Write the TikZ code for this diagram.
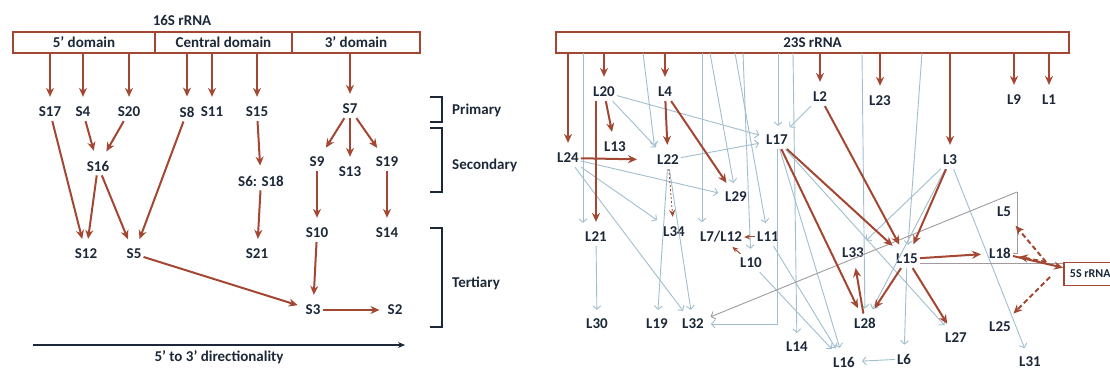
\documentclass[tikz,border=0pt]{standalone}
\usepackage{fontspec}
\setmainfont{Carlito}
\usetikzlibrary{arrows.meta,positioning,calc}
\definecolor{rust}{RGB}{163,70,50}
\definecolor{haze}{RGB}{160,190,206}
\definecolor{ink}{RGB}{28,40,56}
\tikzset{
  >=Stealth,
  lbl/.style={font=\fontsize{15}{18}\selectfont\bfseries, text=ink, inner xsep=2pt, inner ysep=4pt},
}

\begin{document}
\begin{tikzpicture}[x=1pt, y=-1pt,
  dom/.style={lbl, draw=rust, line width=1.8pt, fill=white, minimum height=21pt, inner sep=0pt},
  rarr/.style={-{Stealth[length=9pt,width=8pt]}, rust, line width=2pt, shorten >=6pt},
  garr/.style={-{Straight Barb[length=3.5pt,width=8pt]}, haze, line width=0.9pt, shorten >=5pt},
  pale/.style={rust!30!haze, line width=0.9pt},
  brk/.style={ink, line width=1.2pt}
]
\useasboundingbox (0,0) rectangle (1110,371);
\clip (0,0) rectangle (1110,371);

% 16S side
\node[lbl] (t16) at (182,20) {16S rRNA};
\node[dom, minimum width=142pt] (d5) at (84,42.5) {5’ domain};
\node[dom, minimum width=137pt] (dc) at (223.5,42.5) {Central domain};
\node[dom, minimum width=128pt] (d3) at (356,42.5) {3’ domain};

\node[lbl] (s17) at (50,112) {S17};
\node[lbl] (s4) at (83,112) {S4};
\node[lbl] (s20) at (129,112) {S20};
\node[lbl] (s8) at (187,112) {S8};
\node[lbl] (s11) at (212,112) {S11};
\node[lbl] (s15) at (257,112) {S15};
\node[lbl] (s7) at (350,109) {S7};
\node[lbl] (s16) at (98,166) {S16};
\node[lbl] (s9) at (317,162) {S9};
\node[lbl] (s13) at (350,172) {S13};
\node[lbl] (s19) at (387,162) {S19};
\node[lbl] (s618) at (261,181) {S6: S18};
\node[lbl] (s12) at (86,254) {S12};
\node[lbl] (s5) at (134,254) {S5};
\node[lbl] (s21) at (257,254) {S21};
\node[lbl] (s10) at (317,233) {S10};
\node[lbl] (s14) at (387,233) {S14};
\node[lbl] (s3) at (313,310) {S3};
\node[lbl] (s2) at (395,310) {S2};

\foreach \n in {s17,s4,s20} \draw[rarr] (d5.south -| \n) -- (\n);
\foreach \n in {s8,s11,s15} \draw[rarr] (dc.south -| \n) -- (\n);
\draw[rarr] (d3.south -| s7) -- (s7);
\draw[rarr] (s4) -- (s16);
\draw[rarr] (s20) -- (s16);
\draw[rarr] (s17) -- (s12);
\draw[rarr] (s16) -- (s12);
\draw[rarr] (s16) -- (s5);
\draw[rarr] (s8) -- (s5);
\draw[rarr] (s7) -- (s9);
\draw[rarr] (s7) -- (s13);
\draw[rarr] (s7) -- (s19);
\draw[rarr] (s15) -- (s618);
\draw[rarr] (s618) -- (s21);
\draw[rarr] (s9) -- (s10);
\draw[rarr] (s19) -- (s14);
\draw[rarr] (s10) -- (s3);
\draw[rarr] (s5) -- (s3);
\draw[rarr] (s3) -- (s2);

\draw[brk] (430,97) -- (442,97) -- (442,122) -- (430,122);
\draw[brk] (430,128) -- (442,128) -- (442,192) -- (430,192);
\draw[brk] (430,228) -- (442,228) -- (442,327) -- (430,327);
\node[lbl, anchor=west] (prim) at (450,110) {Primary};
\node[lbl, anchor=west] (sec) at (450,165) {Secondary};
\node[lbl, anchor=west] (ter) at (450,283) {Tertiary};

\coordinate (dl) at (33,345);
\coordinate (dr) at (405,345);
\draw[-{Stealth[length=7pt,width=6pt]}, ink, line width=1.2pt] (dl) -- node[lbl, below=1pt] {5’ to 3’ directionality} (dr);

% 23S side
\node[dom, minimum width=513pt] (r23) at (812.5,42.5) {23S rRNA};
\node[dom, font=\fontsize{12}{14}\selectfont\bfseries, anchor=west, inner xsep=6pt, minimum height=23pt] (r5s) at (1063,274) {5S rRNA};

\node[lbl] (l20) at (604,92) {L20};
\node[lbl] (l4) at (665,92) {L4};
\node[lbl] (l2) at (820,97) {L2};
\node[lbl] (l23) at (880,101) {L23};
\node[lbl] (l9) at (1014,100) {L9};
\node[lbl] (l1) at (1049,100) {L1};
\node[lbl] (l13) at (615,147) {L13};
\node[lbl] (l24) at (568,158) {L24};
\node[lbl] (l22) at (668,160) {L22};
\node[lbl] (l17) at (777,140) {L17};
\node[lbl] (l3) at (950,160) {L3};
\node[lbl] (l29) at (736,197) {L29};
\node[lbl] (l21) at (596,237) {L21};
\node[lbl] (l34) at (674,232) {L34};
\node[lbl] (l712) at (721,237) {L7/L12};
\node[lbl] (l11) at (768,237) {L11};
\node[lbl] (l10) at (751,263) {L10};
\node[lbl] (l30) at (597,324) {L30};
\node[lbl] (l19) at (657,324) {L19};
\node[lbl] (l32) at (693,324) {L32};
\node[lbl] (l14) at (797,347) {L14};
\node[lbl] (l33) at (853,253) {L33};
\node[lbl] (l15) at (907,259) {L15};
\node[lbl] (l18) at (1000,253) {L18};
\node[lbl] (l5) at (1004,212) {L5};
\node[lbl] (l28) at (865,323) {L28};
\node[lbl] (l27) at (956,338) {L27};
\node[lbl] (l25) at (1000,327) {L25};
\node[lbl] (l16) at (844,362) {L16};
\node[lbl] (l6) at (904,359) {L6};
\node[lbl] (l31) at (1030,362) {L31};

\foreach \x in {583,643,702,710,735,743,778,793,862,922}
  \coordinate (g\x) at (\x,53);
\coordinate (kk) at (1017,192);
\coordinate (h1) at (1046,262);
\coordinate (h2) at (1050,277);
\coordinate (q15) at ([yshift=-4pt]l15.east);

\draw[garr] (g583) -- (g583 |- l21.north);
\draw[garr] (l21) -- (l30);
\draw[garr] (g643) -- (l22.north west);
\draw[garr] (l20) -- (l22);
\draw[garr] (l20) -- (l17);
\draw[garr] (g778) -- (g778 |- l17.north);
\draw[garr] (l2) -- (l17);
\draw[garr] (l22) -- (l17);
\draw[garr] (l24) -- (l29);
\draw[garr] (l24) -- (l34);
\draw[garr] (l24) -- (l32);
\draw[garr] (g702) -- (g702 |- l712.north);
\draw[garr] (g710) -- (l29);
\draw[garr] (g735) -- (l11);
\draw[garr] (g743) -- (l10);
\draw[garr] (g793) -- (l14);
\draw[garr] (l22) -- (l32);
\draw[garr] (l22) -- (l19);
\draw[garr] (l17) |- (l32);
\draw[garr] (g862) -- (l28);
\draw[garr] (g922) -- (l15);
\draw[garr] (l3) -- (l33);
\draw[garr] (l3) -- (l28);
\draw[garr] (l3) -- (l31);
\draw[garr] (l15) -- (l6);
\draw[garr] (l6) -- (l16);
\draw[garr] (l10) -- (l16);
\draw[garr] (l11) -- (l16);
\draw[garr] (l17) -- (l16);
\draw[garr] (l17) -- (l27);
\draw[pale] (l18.east) -| (kk);
\draw[garr, pale, -{Straight Barb[length=3.5pt,width=8pt]}] (kk) -- (l32);
\draw[pale] (q15) -- (q15 -| r5s.west);

\foreach \n in {l24,l20,l4,l2,l23,l3,l9,l1} \draw[rarr] (r23.south -| \n) -- (\n);
\draw[rarr] (l20) -- (l13);
\draw[rarr] (l20.south -| l21) -- (l21);
\draw[rarr, shorten >=18pt] (l24) -- (l22);
\draw[rarr] (l4) -- (l22);
\draw[rarr] (l4) -- (l29);
\draw[rarr, line width=0.8pt, dash pattern=on 2pt off 2pt, -{Stealth[length=7pt,width=6pt]}] (l22) -- (l34);
\draw[rarr, line width=1pt, shorten >=0pt, -{Stealth[length=6pt,width=5pt]}] (l11) -- (l712);
\draw[rarr, line width=1pt, shorten >=0pt, -{Stealth[length=6pt,width=5pt]}] (l10) -- (l712);
\draw[rarr] (l2) -- (l15);
\draw[rarr] (l17) -- (l15);
\draw[rarr] (l3) -- (l15);
\draw[rarr] (l17) -- (l28);
\draw[rarr] (l28) -- (l33);
\draw[rarr] (l15) -- (l28);
\draw[rarr] (l15) -- (l27);
\draw[rarr] (l15) -- (l18);
\draw[rarr, shorten >=0pt] (l18) -- (r5s);
\draw[rarr, dash pattern=on 5pt off 3pt] (h1) -- (l5);
\draw[rarr, dash pattern=on 5pt off 3pt] (h1) -- (l18);
\draw[rarr, dash pattern=on 5pt off 3pt] (h2) -- (l25);
\end{tikzpicture}
\end{document}
